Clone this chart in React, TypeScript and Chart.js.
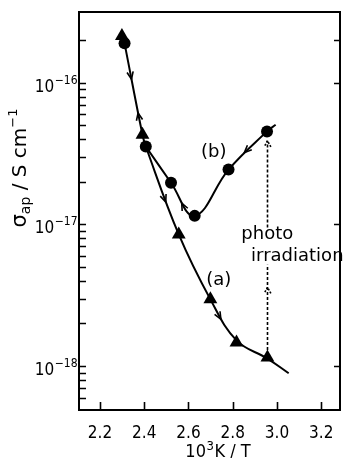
import React, { useEffect, useRef } from "react";
import { Chart, registerables } from "chart.js";

Chart.register(...registerables);

const FONT = "'DejaVu Sans', sans-serif";
const FONT_C = "'DejaVu Sans Condensed', 'DejaVu Sans', sans-serif";

// axis ranges / ticks
const xMin = 2.105;
const xMax = 3.285;
const yMin = 4.9e-19;
const yMax = 3.162e-16;
const xTickValues = [2.2, 2.4, 2.6, 2.8, 3.0, 3.2];
const yMajorTicks = [1e-18, 1e-17, 1e-16];
const yMajorLabels = ["-18", "-17", "-16"];
const yLeftTicks = [
  6e-19, 7e-19, 8e-19, 9e-19,
  1e-18, 2e-18, 3e-18, 4e-18, 5e-18, 6e-18, 7e-18, 8e-18, 9e-18,
  1e-17, 2e-17, 3e-17, 4e-17, 5e-17, 6e-17, 7e-17, 8e-17, 9e-17,
  1e-16, 2e-16,
];
const yRightTicks = [1e-18, 1e-17, 1e-16, 2e-16];

// series (a): triangles, series (b): circles
const triX = [2.299, 2.392, 2.556, 2.699, 2.817, 2.957];
const triY = [2.14e-16, 4.3e-17, 8.5e-18, 2.96e-18, 1.47e-18, 1.15e-18];
const circX = [2.311, 2.407, 2.521, 2.628, 2.781, 2.955];
const circY = [1.9e-16, 3.55e-17, 1.97e-17, 1.15e-17, 2.44e-17, 4.54e-17];

// smooth curves drawn through the points
const curveAX = [2.311, 2.392, 2.407, 2.556, 2.699, 2.817, 2.957, 3.053];
const curveAY = [1.9e-16, 4.3e-17, 3.55e-17, 8.5e-18, 2.96e-18, 1.52e-18, 1.13e-18, 8.9e-19];
const curveBX = [2.407, 2.521, 2.628, 2.781, 2.955, 2.994];
const curveBY = [3.55e-17, 1.97e-17, 1.15e-17, 2.44e-17, 4.54e-17, 5.06e-17];

// direction arrows on the curves: which curve (0 = a, 1 = b), segment, position along it, direction
const arrowCurve = [0, 0, 0, 1, 1, 0];
const arrowSeg = [0, 0, 2, 1, 3, 4];
const arrowT = [0.38, 0.78, 0.64, 0.45, 0.42, 0.45];
const arrowDir = [1, -1, 1, -1, -1, 1];

// photo irradiation dashed arrow
const dashX = 2.957;
const dashFromY = [1.2e-18, 9.5e-18];
const dashToY = [5.2e-18, 3.9e-17];
const dashHeadY = [3.6e-18, 3.9e-17];

// annotation texts
const noteText = ["(b)", "(a)", "photo", "irradiation"];
const noteX = [2.657, 2.68, 2.839, 2.883];
const noteY = [2.99e-17, 3.71e-18, 7.88e-18, 5.52e-18];

function vHeadDir(ctx: CanvasRenderingContext2D, hx: number, hy: number, th: number, len: number, ang: number) {
  ctx.moveTo(hx - len * Math.cos(th - ang), hy - len * Math.sin(th - ang));
  ctx.lineTo(hx, hy);
  ctx.lineTo(hx - len * Math.cos(th + ang), hy - len * Math.sin(th + ang));
}

function bez(p0: number, c1: number, c2: number, p1: number, t: number) {
  const u = 1 - t;
  return u * u * u * p0 + 3 * u * u * t * c1 + 3 * u * t * t * c2 + t * t * t * p1;
}
function bezD(p0: number, c1: number, c2: number, p1: number, t: number) {
  const u = 1 - t;
  return 3 * u * u * (c1 - p0) + 6 * u * t * (c2 - c1) + 3 * t * t * (p1 - c2);
}

const overlay = {
  id: "overlay",
  afterDraw(chart: any) {
    const { ctx, chartArea: a, scales } = chart;
    const x = scales.x;
    const y = scales.y;
    ctx.save();
    ctx.strokeStyle = "#000";
    ctx.fillStyle = "#000";

    // frame
    ctx.lineWidth = 2;
    ctx.strokeRect(a.left, a.top, a.right - a.left, a.bottom - a.top);

    // inward ticks
    ctx.lineWidth = 1.6;
    ctx.beginPath();
    yLeftTicks.forEach((v) => {
      const py = Math.round(y.getPixelForValue(v)) + 0.5;
      ctx.moveTo(a.left, py);
      ctx.lineTo(a.left + 7, py);
    });
    yRightTicks.forEach((v) => {
      const py = Math.round(y.getPixelForValue(v)) + 0.5;
      ctx.moveTo(a.right, py);
      ctx.lineTo(a.right - 6, py);
    });
    xTickValues.forEach((v) => {
      const px = Math.round(x.getPixelForValue(v)) + 0.5;
      ctx.moveTo(px, a.bottom);
      ctx.lineTo(px, a.bottom - 8);
    });
    ctx.stroke();

    // y tick labels 10^n
    ctx.textBaseline = "alphabetic";
    ctx.textAlign = "left";
    yMajorTicks.forEach((v, i) => {
      const py = y.getPixelForValue(v);
      ctx.font = `17px ${FONT_C}`;
      const w10 = ctx.measureText("10").width;
      ctx.font = `12px ${FONT_C}`;
      const sup = "\u2212" + yMajorLabels[i].slice(1);
      const ws = ctx.measureText(sup).width;
      const x0 = a.left - 2 - w10 - ws;
      ctx.font = `17px ${FONT_C}`;
      ctx.fillText("10", x0, py + 9);
      ctx.font = `12px ${FONT_C}`;
      ctx.fillText(sup, x0 + w10 + 0.5, py + 1);
    });

    // x axis title 10^3 K / T
    {
      const base = 456.5;
      ctx.font = `18px ${FONT_C}`;
      const w1 = ctx.measureText("10").width;
      ctx.font = `13px ${FONT_C}`;
      const w2 = ctx.measureText("3").width;
      ctx.font = `18px ${FONT_C}`;
      const w3 = ctx.measureText("K / T").width;
      const total = w1 + w2 + w3 + 1;
      const cx = 218;
      let px = cx - total / 2;
      ctx.fillText("10", px, base);
      px += w1;
      ctx.font = `13px ${FONT_C}`;
      ctx.fillText("3", px + 0.5, base - 6.5);
      px += w2 + 1;
      ctx.font = `18px ${FONT_C}`;
      ctx.fillText("K / T", px, base);
    }

    // y axis title sigma_ap / S cm^-1
    {
      const parts = [
        { t: "\u03c3", s: 21, dy: 0 },
        { t: "ap", s: 14, dy: 4 },
        { t: " / S cm", s: 20, dy: 0 },
        { t: "\u22121", s: 13, dy: -9 },
      ];
      let total = 0;
      const widths = parts.map((p) => {
        ctx.font = `${p.s}px ${FONT}`;
        const w = ctx.measureText(p.t).width;
        total += w;
        return w;
      });
      ctx.translate(26, 168);
      ctx.rotate(-Math.PI / 2);
      let px = -total / 2;
      parts.forEach((p, i) => {
        ctx.font = `${p.s}px ${FONT}`;
        ctx.fillText(p.t, px, p.dy);
        px += widths[i];
      });
      ctx.setTransform(1, 0, 0, 1, 0, 0);
    }

    // curve arrows, placed on the drawn bezier segments
    ctx.lineWidth = 1.6;
    ctx.beginPath();
    arrowSeg.forEach((j, i) => {
      const meta = chart.getDatasetMeta(2 + arrowCurve[i]);
      const p0 = meta.data[j];
      const p1 = meta.data[j + 1];
      if (!p0 || !p1) return;
      const c1x = p0.cp2x ?? p0.x;
      const c1y = p0.cp2y ?? p0.y;
      const c2x = p1.cp1x ?? p1.x;
      const c2y = p1.cp1y ?? p1.y;
      const t = arrowT[i];
      const hx = bez(p0.x, c1x, c2x, p1.x, t);
      const hy = bez(p0.y, c1y, c2y, p1.y, t);
      const dx = bezD(p0.x, c1x, c2x, p1.x, t) * arrowDir[i];
      const dy = bezD(p0.y, c1y, c2y, p1.y, t) * arrowDir[i];
      vHeadDir(ctx, hx, hy, Math.atan2(dy, dx), 8, 0.4);
    });
    ctx.stroke();

    // dashed irradiation arrow
    const dxp = Math.round(x.getPixelForValue(dashX)) + 0.5;
    ctx.lineWidth = 1.6;
    ctx.setLineDash([3, 2]);
    ctx.beginPath();
    dashFromY.forEach((v, i) => {
      ctx.moveTo(dxp, y.getPixelForValue(v));
      ctx.lineTo(dxp, y.getPixelForValue(dashToY[i]));
    });
    ctx.stroke();
    ctx.setLineDash([2, 1.5]);
    ctx.beginPath();
    dashHeadY.forEach((v) => {
      const hy = y.getPixelForValue(v);
      vHeadDir(ctx, dxp, hy, -Math.PI / 2, 7, 0.5);
    });
    ctx.stroke();
    ctx.setLineDash([]);

    // notes
    ctx.font = `18px ${FONT}`;
    noteText.forEach((t, i) => {
      ctx.fillText(t, x.getPixelForValue(noteX[i]), y.getPixelForValue(noteY[i]));
    });

    ctx.restore();
  },
};

export default function App() {
  const ref = useRef<HTMLCanvasElement>(null);
  useEffect(() => {
    document.body.style.margin = "0";
    const canvas = ref.current!;
    const pts = (xs: number[], ys: number[]) => xs.map((v, i) => ({ x: v, y: ys[i] }));
    const chart = new Chart(canvas, {
      type: "scatter",
      data: {
        datasets: [
          {
            label: "(a)",
            data: pts(triX, triY),
            pointStyle: "triangle",
            pointRadius: 8,
            backgroundColor: "#000",
            borderColor: "#000",
            borderWidth: 0,
          },
          {
            label: "(b)",
            data: pts(circX, circY),
            pointStyle: "circle",
            pointRadius: 6,
            backgroundColor: "#000",
            borderColor: "#000",
            borderWidth: 0,
          },
          {
            label: "curve a",
            data: pts(curveAX, curveAY),
            showLine: true,
            pointRadius: 0,
            borderColor: "#000",
            borderWidth: 2,
            tension: 0.4,
          },
          {
            label: "curve b",
            data: pts(curveBX, curveBY),
            showLine: true,
            pointRadius: 0,
            borderColor: "#000",
            borderWidth: 2,
            tension: 0.4,
          },
        ],
      },
      options: {
        responsive: false,
        animation: false,
        devicePixelRatio: 1,
        layout: { padding: { top: 12, right: 2, left: 0, bottom: 0 } },
        plugins: { legend: { display: false }, tooltip: { enabled: false } },
        scales: {
          x: {
            type: "linear",
            min: xMin,
            max: xMax,
            afterBuildTicks: (s: any) => {
              s.ticks = xTickValues.map((v) => ({ value: v }));
            },
            afterFit: (s: any) => {
              s.height = 48;
            },
            grid: { display: false },
            border: { display: false },
            ticks: {
              color: "#000",
              font: { family: FONT_C, size: 17 },
              padding: 5,
              maxRotation: 0,
              autoSkip: false,
              callback: (v: any) => Number(v).toFixed(1),
            },
          },
          y: {
            type: "logarithmic",
            min: yMin,
            max: yMax,
            afterBuildTicks: (s: any) => {
              s.ticks = yMajorTicks.map((v) => ({ value: v }));
            },
            afterFit: (s: any) => {
              s.width = 79;
            },
            grid: { display: false },
            border: { display: false },
            ticks: { display: false },
          },
        },
      } as any,
      plugins: [overlay],
    });
    return () => chart.destroy();
  }, []);
  return <canvas ref={ref} width={348} height={458} style={{ display: "block" }} />;
}
